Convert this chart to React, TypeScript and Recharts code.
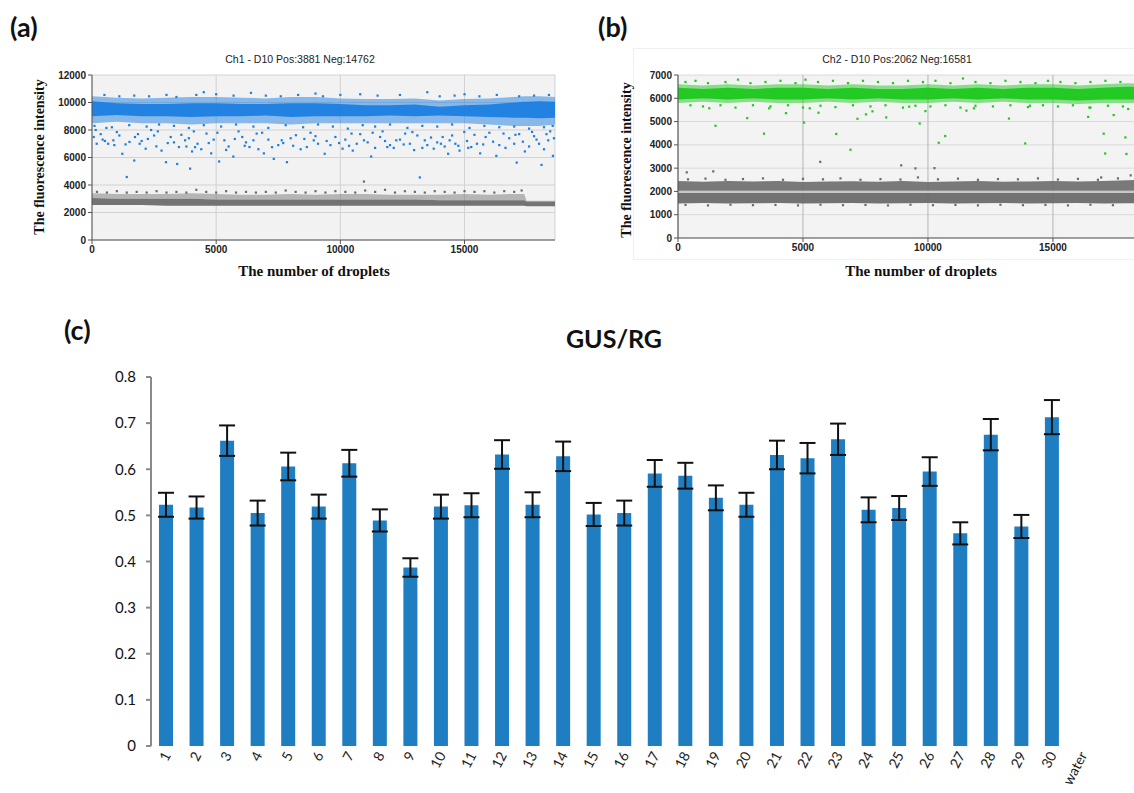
import {
  ComposedChart, Area, Scatter, XAxis, YAxis, CartesianGrid,
  BarChart, Bar, ErrorBar,
} from 'recharts';

// both channels read the same well: Pos + Neg = 18643 droplets
const TOTAL_DROPLETS = 18643;

// ---- (a) Ch1, FAM ----
// dense cores plus a looser fringe around each cloud
const ch1BandX = [0, 1000, 2000, 3000, 4000, 5000, 6000, 7000, 8000, 9000, 10000, 11000, 12000, 13000, 14000, 15000, 16000, 17000, 17400, 17500, 18000, 18643];
const ch1PosLow = [9000, 9100, 9000, 9000, 8950, 9000, 9000, 9050, 8950, 9000, 9000, 9000, 9050, 9000, 9050, 9000, 8950, 8900, 8900, 8900, 8850, 8900];
const ch1PosHigh = [10100, 9950, 9900, 9900, 9950, 9950, 9900, 9900, 9950, 9950, 9900, 9800, 9800, 9850, 9700, 9800, 9850, 10000, 10050, 10050, 10100, 10050];
const ch1PosFringeLow = [8500, 8600, 8500, 8500, 8400, 8500, 8500, 8500, 8400, 8500, 8500, 8500, 8500, 8500, 8500, 8500, 8400, 8300, 8300, 8300, 8300, 8400];
const ch1PosFringeHigh = [10450, 10350, 10300, 10350, 10400, 10400, 10350, 10300, 10400, 10400, 10300, 10250, 10250, 10300, 10150, 10250, 10300, 10400, 10450, 10450, 10450, 10400];
const ch1NegLow = [2550, 2550, 2550, 2500, 2500, 2500, 2500, 2500, 2500, 2500, 2500, 2500, 2500, 2500, 2500, 2500, 2500, 2500, 2500, 2450, 2450, 2450];
const ch1NegHigh = [3050, 3000, 3000, 3000, 3000, 2950, 2950, 2950, 2950, 2950, 2950, 2950, 2950, 2950, 2900, 2900, 2900, 2900, 2900, 2800, 2800, 2800];
const ch1NegFringeHigh = [3400, 3350, 3350, 3350, 3400, 3350, 3300, 3300, 3350, 3300, 3350, 3350, 3300, 3300, 3300, 3350, 3300, 3350, 3350, 2850, 2850, 2850];

const ch1PosDots: [number, number][] = [
  [70, 7490], [190, 7000], [430, 7300], [580, 8150], [650, 7000], [860, 7250], [1220, 6270], [1400, 4580],
  [1510, 7130], [1700, 5780], [1730, 7490], [1920, 7000], [2160, 6640], [2380, 8000], [2590, 6810], [2980, 5660],
  [3170, 7490], [3430, 5530], [3500, 6760], [3750, 7250], [3950, 5190], [4030, 6440], [4250, 7000], [4610, 7740],
  [4800, 6300], [5120, 5710], [5330, 7250], [5690, 6070], [6050, 7490], [6340, 6760], [6630, 7740], [6920, 6300],
  [7320, 5900], [7640, 7250], [7850, 5660], [8210, 7620], [8650, 6760], [8930, 7250], [9370, 6270], [9800, 7490],
  [10090, 6640], [10450, 7740], [10660, 7000], [11240, 6070], [11600, 7490], [11890, 6760], [12250, 7250], [12610, 7740],
  [12970, 6540], [13200, 4550], [13400, 7250], [13760, 6640], [14120, 7490], [14340, 6270], [14630, 7000], [14990, 7860],
  [15270, 6760], [15630, 6300], [15850, 7490], [16280, 6120], [16570, 7740], [17000, 7000], [17100, 5630], [17430, 6440],
  [17720, 7860], [18100, 5460], [18370, 7250], [18560, 6120],
  [350, 7700], [900, 6900], [1100, 7600], [2000, 7200], [2500, 7600], [2800, 6500], [3300, 7100], [3800, 6800],
  [4100, 7900], [4400, 6600], [4900, 7300], [5500, 6800], [5900, 7900], [6200, 7100], [6700, 6600], [7100, 7300],
  [7500, 6900], [8000, 7400], [8400, 6600], [8800, 7800], [9100, 7000], [9600, 6900], [10200, 7300], [10500, 6500],
  [10800, 7700], [11100, 7100], [11400, 6700], [11700, 7900], [12000, 6900], [12400, 7300], [12800, 7000], [13100, 7600],
  [13500, 6900], [13900, 7100], [14200, 6800], [14500, 7600], [14800, 6500], [15100, 7200], [15500, 7000], [16000, 7800],
  [16400, 6900], [16800, 7400], [17200, 7700], [17600, 6800], [17900, 7300], [18200, 6600], [18450, 7900],
  [150, 8000], [520, 7200], [1000, 7850], [1350, 6950], [1850, 7700], [2250, 7350], [2650, 7900], [3050, 7050],
  [3600, 7650], [3900, 7400], [4150, 6750], [4700, 7050], [5050, 7800], [5400, 6550], [5750, 7350], [6150, 6850],
  [6500, 7250], [6850, 7800], [7250, 6750], [7700, 7050], [8100, 6850], [8550, 7350], [9000, 7550], [9450, 7200],
  [9950, 7050], [10350, 6850], [10950, 7250], [11300, 7800], [11800, 7200], [12150, 6700], [12550, 6950], [12900, 7850],
  [13300, 6700], [13650, 7450], [14050, 7000], [14400, 7250], [14750, 6850], [15150, 6700], [15400, 7650], [15750, 6950],
  [16150, 7150], [16650, 6700], [17050, 7650], [17350, 7150], [17800, 7550], [18000, 7000], [18300, 7700], [18600, 7400],
  [500, 10550], [1100, 10450], [1700, 10500], [2300, 10450], [3000, 10550], [3400, 10400], [4200, 10550], [4500, 10750],
  [5000, 10600], [5700, 10500], [6400, 10700], [7000, 10500], [7600, 10450], [8300, 10550], [9000, 10650], [9300, 10450],
  [10000, 10550], [10800, 10600], [11500, 10500], [12400, 10550], [13500, 10750], [14000, 10450], [14600, 10500], [15000, 10600],
  [15600, 10450], [16300, 10550], [17200, 10450], [17800, 10500], [18400, 10550],
  [100, 8300], [800, 8200], [1500, 8350], [2200, 8250], [2700, 8400], [3300, 8300], [3900, 8150], [4500, 8350],
  [5200, 8250], [5800, 8400], [6500, 8250], [7100, 8150], [7800, 8350], [8500, 8200], [9100, 8400], [9700, 8250],
  [10300, 8100], [10900, 8350], [11400, 8250], [12000, 8400], [12700, 8150], [13300, 8300], [13900, 8250], [14500, 8400],
  [15200, 8150], [15800, 8300], [16400, 8200], [17000, 8250], [17600, 8100], [18200, 8200], [18550, 8300],
];

const ch1NegDots: [number, number][] = [
  [200, 3500], [600, 3450], [1000, 3550], [1400, 3450], [1800, 3500], [2200, 3450], [2600, 3550], [3000, 3450],
  [3400, 3500], [3800, 3450], [4200, 3650], [4600, 3500], [5000, 3450], [5400, 3550], [5800, 3450], [6200, 3500],
  [6600, 3450], [7000, 3500], [7400, 3450], [7800, 3600], [8200, 3500], [8600, 3450], [9000, 3550], [9400, 3450],
  [9800, 3550], [10200, 3500], [10600, 3450], [10950, 4250], [11000, 3600], [11400, 3500], [11800, 3650], [12200, 3450],
  [12600, 3550], [13000, 3500], [13400, 3450], [13800, 3550], [14200, 3500], [14600, 3450], [15000, 3550], [15400, 3500],
  [15800, 3550], [16200, 3450], [16600, 3550], [17000, 3500], [17300, 3600],
];

// ---- (b) Ch2, HEX ----
const ch2BandX = [0, 1000, 2000, 3000, 4000, 5000, 6000, 7000, 8000, 9000, 10000, 11000, 12000, 13000, 14000, 15000, 16000, 17000, 18000, 18643];
const ch2PosLow = [5950, 6000, 5950, 6000, 5950, 5950, 6000, 5950, 6000, 5950, 5950, 6000, 5950, 6000, 5950, 5950, 5900, 5950, 5950, 5950];
const ch2PosHigh = [6450, 6400, 6450, 6400, 6450, 6450, 6400, 6450, 6400, 6400, 6450, 6400, 6450, 6400, 6450, 6450, 6400, 6450, 6500, 6450];
const ch2PosFringeLow = [5800, 5850, 5800, 5850, 5800, 5800, 5850, 5800, 5850, 5800, 5800, 5850, 5800, 5850, 5800, 5800, 5750, 5800, 5800, 5800];
const ch2PosFringeHigh = [6600, 6550, 6600, 6550, 6600, 6600, 6550, 6600, 6550, 6550, 6600, 6550, 6600, 6550, 6600, 6600, 6550, 6600, 6650, 6600];
const ch2NegUpLow = [2030, 2030, 2030, 2030, 2030, 2030, 2030, 2030, 2030, 2030, 2030, 2030, 2030, 2030, 2030, 2030, 2030, 2030, 2030, 2030];
const ch2NegUpHigh = [2450, 2420, 2450, 2430, 2450, 2400, 2430, 2440, 2420, 2450, 2400, 2430, 2450, 2420, 2430, 2450, 2430, 2450, 2480, 2500];
const ch2NegLoLow = [1480, 1500, 1480, 1490, 1500, 1480, 1490, 1500, 1480, 1490, 1500, 1480, 1490, 1500, 1480, 1490, 1500, 1480, 1490, 1500];
const ch2NegLoHigh = [1930, 1930, 1930, 1930, 1930, 1930, 1930, 1930, 1930, 1930, 1930, 1930, 1930, 1930, 1930, 1930, 1930, 1930, 1930, 1930];

const ch2PosDots: [number, number][] = [
  [1250, 5570], [1500, 4820], [2770, 5150], [3440, 4480], [3650, 5570], [4320, 5360], [5040, 4960], [5270, 5570],
  [5620, 5380], [6330, 4470], [6900, 3790], [7180, 5120], [7520, 5310], [7780, 5440], [8330, 5180], [9250, 5640],
  [9670, 4920], [9900, 5450], [10430, 4090], [10690, 4380], [11540, 5470], [11840, 5570], [13240, 5130], [13890, 4060],
  [14080, 5680], [16410, 5200], [16460, 5600], [17030, 4480], [17090, 3630], [17430, 5280], [17900, 4320], [17940, 3610],
  [18010, 5540],
  [300, 6700], [700, 6750], [1200, 6650], [1900, 6700], [2400, 6800], [2900, 6650], [3500, 6700], [4100, 6750],
  [4700, 6650], [5100, 6800], [5600, 6700], [6200, 6750], [6800, 6650], [7400, 6750], [8000, 6700], [8600, 6650],
  [9200, 6750], [9800, 6700], [10300, 6750], [10900, 6650], [11400, 6850], [11900, 6700], [12500, 6650], [13100, 6750],
  [13700, 6700], [14300, 6650], [14800, 6750], [15300, 6700], [15900, 6650], [16500, 6700], [17100, 6750], [17700, 6700],
  [18300, 6650],
  [500, 5700], [1000, 5650], [1700, 5700], [2300, 5600], [3000, 5700], [3700, 5650], [4400, 5700], [5000, 5600],
  [5700, 5680], [6300, 5620], [7000, 5700], [7700, 5650], [8300, 5700], [9000, 5600], [9500, 5680], [10100, 5650],
  [10700, 5700], [11300, 5600], [11900, 5680], [12600, 5650], [13300, 5700], [14000, 5620], [14600, 5700], [15200, 5650],
  [15800, 5700], [16500, 5600], [17200, 5680], [17800, 5650], [18400, 5700],
];

const ch2NegDots: [number, number][] = [
  [350, 2820], [1410, 2860], [5690, 3270], [8930, 3120], [9500, 2990], [10260, 3000], [16930, 2600], [18110, 2690],
  [400, 2520], [1100, 2550], [1900, 2500], [2600, 2530], [3400, 2560], [4200, 2500], [5000, 2540], [5800, 2520],
  [6500, 2560], [7300, 2500], [8100, 2530], [8900, 2510], [9600, 2600], [10400, 2520], [11200, 2550], [12000, 2500],
  [12800, 2530], [13600, 2520], [14400, 2560], [15200, 2510], [16000, 2540], [16800, 2500], [17600, 2560], [18300, 2600],
  [300, 1420], [1200, 1400], [2100, 1430], [3000, 1410], [3900, 1420], [4800, 1400], [5700, 1430], [6600, 1410],
  [7500, 1420], [8400, 1400], [9300, 1430], [10200, 1410], [11100, 1420], [12000, 1400], [12900, 1430], [13800, 1410],
  [14700, 1420], [15600, 1400], [16500, 1430], [17400, 1410], [18300, 1420],
];

// ---- (c) GUS/RG ratio ----
const sampleLabels = ['1', '2', '3', '4', '5', '6', '7', '8', '9', '10', '11', '12', '13', '14', '15', '16', '17', '18', '19', '20', '21', '22', '23', '24', '25', '26', '27', '28', '29', '30', 'water'];
const gusRgRatio = [0.523, 0.517, 0.662, 0.505, 0.606, 0.519, 0.613, 0.489, 0.387, 0.519, 0.522, 0.632, 0.523, 0.628, 0.502, 0.505, 0.591, 0.586, 0.538, 0.523, 0.631, 0.624, 0.665, 0.512, 0.516, 0.595, 0.461, 0.675, 0.476, 0.713, null];
const gusRgSd = [0.026, 0.024, 0.033, 0.027, 0.030, 0.026, 0.029, 0.024, 0.020, 0.026, 0.026, 0.031, 0.027, 0.032, 0.025, 0.027, 0.029, 0.028, 0.027, 0.026, 0.031, 0.033, 0.034, 0.027, 0.026, 0.031, 0.024, 0.034, 0.025, 0.037, null];

const BLUE = '#1c7ee0';
const GREEN = '#1ec81e';
const GREY = '#6b6b6b';
const BAR = '#1f7ec1';

const ch1Bands = ch1BandX.map((x, i) => ({
  x,
  posFringe: [ch1PosFringeLow[i], ch1PosFringeHigh[i]],
  pos: [ch1PosLow[i], ch1PosHigh[i]],
  negFringe: [ch1NegHigh[i], ch1NegFringeHigh[i]],
  neg: [ch1NegLow[i], ch1NegHigh[i]],
}));
const ch2Bands = ch2BandX.map((x, i) => ({
  x,
  posFringe: [ch2PosFringeLow[i], ch2PosFringeHigh[i]],
  pos: [ch2PosLow[i], ch2PosHigh[i]],
  negUp: [ch2NegUpLow[i], ch2NegUpHigh[i]],
  gap: [ch2NegLoHigh[i], ch2NegUpLow[i]],
  negLo: [ch2NegLoLow[i], ch2NegLoHigh[i]],
}));
const toPoints = (d: [number, number][]) => d.map(([x, y]) => ({ x, y }));

const barData = sampleLabels.map((name, i) => ({
  name, idx: i + 0.5, ratio: gusRgRatio[i], sd: gusRgSd[i],
}));

const tickFont = { fontSize: 10, fontWeight: 700, fill: '#222', fontFamily: '"Liberation Sans", Arial, sans-serif' };
const serifTitle: React.CSSProperties = {
  position: 'absolute', fontFamily: '"Liberation Serif", "Times New Roman", serif',
  fontWeight: 700, fontSize: 15, color: '#111', whiteSpace: 'nowrap',
};
const smallTitle: React.CSSProperties = {
  position: 'absolute', fontFamily: '"Liberation Sans", Arial, sans-serif',
  fontSize: 10.5, color: '#222', whiteSpace: 'nowrap',
};
const panelLetter: React.CSSProperties = {
  position: 'absolute', fontFamily: 'Lato, "Open Sans", sans-serif',
  fontWeight: 700, fontSize: 27, color: '#111',
};

const dot = (color: string) => (p: any) => (
  <rect x={p.cx - 1.1} y={p.cy - 1.1} width={2.2} height={2.2} fill={color} />
);

function SampleTick(props: any) {
  const { x, y, payload } = props;
  const ax = x + 5;
  const ay = y + 1;
  return (
    <text
      x={ax} y={ay} transform={`rotate(-62 ${ax} ${ay})`} textAnchor="end"
      fontSize={14} fill="#222" fontFamily='Lato, "Open Sans", sans-serif'
    >
      {payload.value}
    </text>
  );
}

const band = (key: string, color: string, opacity: number) => (
  <Area
    type="linear" dataKey={key} stroke="none" fill={color} fillOpacity={opacity}
    dot={false} activeDot={false} isAnimationActive={false}
  />
);

export default function App() {
  return (
    <div style={{ position: 'fixed', left: 0, top: 0, width: 1134, height: 793, overflow: 'hidden', background: '#fff' }}>
      {/* (a) */}
      <div style={{ ...panelLetter, left: 10, top: 10 }}>(a)</div>
      <div style={{ ...smallTitle, left: 300, top: 53, transform: 'translateX(-50%)' }}>Ch1 - D10 Pos:3881 Neg:14762</div>
      <div style={{ position: 'absolute', left: 0, top: 40 }}>
        <ComposedChart width={570} height={250} data={ch1Bands} margin={{ top: 35, right: 15, bottom: 10, left: 32 }}>
          <CartesianGrid fill="#f2f2f2" stroke="#d2d2d2" />
          <XAxis
            dataKey="x" type="number" domain={[0, TOTAL_DROPLETS]} ticks={[0, 5000, 10000, 15000]}
            allowDataOverflow height={40} tick={tickFont} stroke="#555" tickSize={4}
          />
          <YAxis
            type="number" domain={[0, 12000]} ticks={[0, 2000, 4000, 6000, 8000, 10000, 12000]}
            allowDataOverflow width={60} tick={tickFont} stroke="#555" tickSize={4}
          />
          {band('negFringe', GREY, 0.45)}
          {band('neg', GREY, 0.95)}
          {band('posFringe', BLUE, 0.5)}
          {band('pos', BLUE, 0.95)}
          <Scatter data={toPoints(ch1NegDots)} dataKey="y" fill={GREY} shape={dot(GREY)} isAnimationActive={false} />
          <Scatter data={toPoints(ch1PosDots)} dataKey="y" fill={BLUE} shape={dot(BLUE)} isAnimationActive={false} />
        </ComposedChart>
      </div>
      <div style={{ ...serifTitle, left: 314, top: 263, transform: 'translateX(-50%)' }}>The number of droplets</div>
      <div style={{ ...serifTitle, fontSize: 14, left: 40, top: 157, transform: 'translate(-50%, -50%) rotate(-90deg)' }}>The fluorescence intensity</div>

      {/* (b) */}
      <div style={{ position: 'absolute', left: 633, top: 48, width: 520, height: 210, border: '1px solid #f0f0f0' }} />
      <div style={{ ...panelLetter, left: 598, top: 10 }}>(b)</div>
      <div style={{ ...smallTitle, left: 897, top: 53, transform: 'translateX(-50%)' }}>Ch2 - D10 Pos:2062 Neg:16581</div>
      <div style={{ position: 'absolute', left: 590, top: 40 }}>
        <ComposedChart width={559} height={250} data={ch2Bands} margin={{ top: 35, right: 5, bottom: 12, left: 28 }}>
          <CartesianGrid fill="#f3f3f3" stroke="#dadada" vertical={false} />
          <CartesianGrid stroke="#b4b4b4" horizontal={false} />
          <XAxis
            dataKey="x" type="number" domain={[0, TOTAL_DROPLETS]} ticks={[0, 5000, 10000, 15000]}
            allowDataOverflow height={40} tick={tickFont} stroke="#555" tickSize={4}
          />
          <YAxis
            type="number" domain={[0, 7000]} ticks={[0, 1000, 2000, 3000, 4000, 5000, 6000, 7000]}
            allowDataOverflow width={60} tick={tickFont} stroke="#555" tickSize={4}
          />
          {band('negLo', GREY, 0.95)}
          {band('gap', '#c4c4c4', 0.9)}
          {band('negUp', GREY, 0.9)}
          {band('posFringe', GREEN, 0.5)}
          {band('pos', GREEN, 0.95)}
          <Scatter data={toPoints(ch2NegDots)} dataKey="y" fill={GREY} shape={dot(GREY)} isAnimationActive={false} />
          <Scatter data={toPoints(ch2PosDots)} dataKey="y" fill={GREEN} shape={dot(GREEN)} isAnimationActive={false} />
        </ComposedChart>
      </div>
      <div style={{ ...serifTitle, left: 921, top: 263, transform: 'translateX(-50%)' }}>The number of droplets</div>
      <div style={{ ...serifTitle, fontSize: 14, left: 627, top: 160, transform: 'translate(-50%, -50%) rotate(-90deg)' }}>The fluorescence intensity</div>

      {/* (c) */}
      <div style={{ ...panelLetter, left: 64, top: 313 }}>(c)</div>
      <div style={{ ...panelLetter, fontSize: 25, left: 614, top: 323, transform: 'translateX(-50%)' }}>GUS/RG</div>
      <div style={{ position: 'absolute', left: 60, top: 350 }}>
        <BarChart width={1060} height={470} data={barData} margin={{ top: 27, right: 22, bottom: 13, left: 41 }} barSize={14}>
          <XAxis
            xAxisId="edge" dataKey="idx" type="number" domain={[0, 31]} allowDataOverflow
            ticks={Array.from({ length: 32 }, (_, i) => i)} tickFormatter={() => ''}
            height={1} stroke="#8a8a8a" strokeWidth={2} tickSize={6}
          />
          <XAxis
            xAxisId="cat" dataKey="name" interval={0} axisLine={false} tickLine={false}
            height={60} tick={<SampleTick />}
          />
          <YAxis
            type="number" domain={[0, 0.8]} ticks={[0, 0.1, 0.2, 0.3, 0.4, 0.5, 0.6, 0.7, 0.8]}
            width={50} stroke="#8a8a8a" strokeWidth={2} tickSize={5} tickMargin={10}
            tick={{ fontSize: 15, fill: '#111', fontFamily: 'Lato, "Open Sans", sans-serif' }}
          />
          <Bar xAxisId="cat" dataKey="ratio" fill={BAR} isAnimationActive={false}>
            <ErrorBar dataKey="sd" width={8} stroke="#111" strokeWidth={2} />
          </Bar>
        </BarChart>
      </div>
    </div>
  );
}
